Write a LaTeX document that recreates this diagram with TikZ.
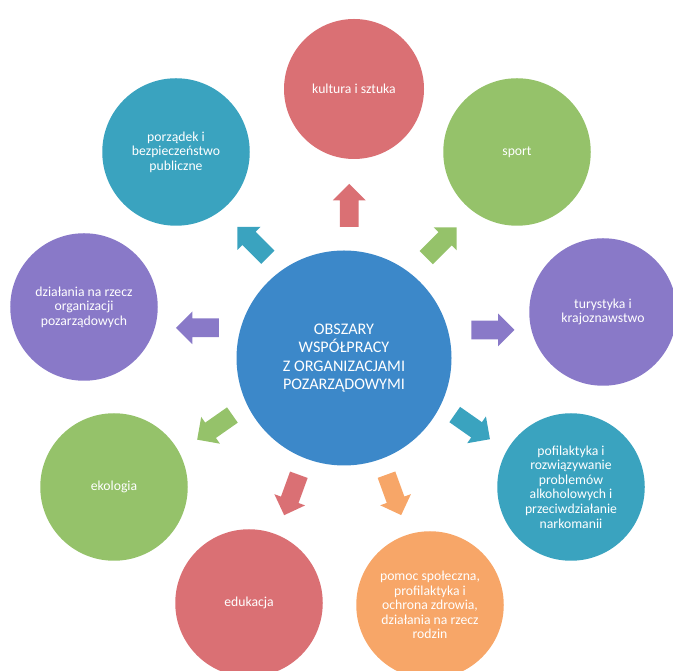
\documentclass[tikz,border=0pt]{standalone}
\usepackage{fontspec}
\setmainfont{Carlito}
\usetikzlibrary{shapes.arrows, calc}
\definecolor{obred}{RGB}{218,112,116}
\definecolor{obgreen}{RGB}{149,194,106}
\definecolor{obpurple}{RGB}{137,121,200}
\definecolor{obteal}{RGB}{58,163,191}
\definecolor{obblue}{RGB}{60,136,201}
\definecolor{oborange}{RGB}{247,166,104}
\tikzset{
    area/.style={circle, minimum size=2.95cm, inner sep=1pt, align=center, text=white,
      font=\fontsize{7.8}{8.3}\selectfont},
    hub/.style={circle, fill=obblue, minimum size=4.3cm, align=center, text=white,
      font=\fontsize{9.2}{10.6}\selectfont},
    pointer/.style={single arrow, minimum height=0.86cm, inner xsep=0pt, inner ysep=0.18cm,
      single arrow head extend=0.14cm, single arrow head indent=0pt},
}
\begin{document}
\begin{tikzpicture}
    \useasboundingbox (0,0) rectangle (13.46,13.4);

    \node[hub] (hub) at (6.88,6.24) {OBSZARY\\WSPÓŁPRACY\\Z ORGANIZACJAMI\\POZARZĄDOWYMI};

    % outer areas
    \node[area, fill=obred, minimum size=2.8cm] (culture) at (7.08,11.62) {kultura i sztuka};
    \node[area, fill=obgreen] (sport) at (10.34,10.36) {sport};
    \node[area, fill=obpurple] (tourism) at (12.06,7.16) {turystyka i\\krajoznawstwo};
    \node[area, fill=obteal] (prevention) at (11.42,3.66) {pofilaktyka i\\rozwiązywanie\\problemów\\alkoholowych i\\przeciwdziałanie\\narkomanii};
    \node[area, fill=oborange] (welfare) at (8.60,1.30) {pomoc społeczna,\\profilaktyka i\\ochrona zdrowia,\\działania na rzecz\\rodzin};
    \node[area, fill=obred] (education) at (4.98,1.34) {edukacja};
    \node[area, fill=obgreen] (ecology) at (2.28,3.66) {ekologia};
    \node[area, fill=obpurple] (ngo) at (1.68,7.26) {działania na rzecz\\organizacji\\pozarządowych};
    \node[area, fill=obteal] (order) at (3.52,10.36) {porządek i\\bezpieczeństwo\\publiczne};

    % arrows
    \node[pointer, fill=obred, rotate=90] (toculture) at ($(hub)+(88:2.96)$) {};
    \node[pointer, fill=obgreen, rotate=45] (tosport) at ($(hub)+(50:2.93)$) {};
    \node[pointer, fill=obpurple, rotate=0] (totourism) at ($(hub)+(11:2.94)$) {};
    \node[pointer, fill=obteal, rotate=-35] (toprevention) at ($(hub)+(-28:2.82)$) {};
    \node[pointer, fill=oborange, rotate=-70] (towelfare) at ($(hub)+(-70:2.82)$) {};
    \node[pointer, fill=obred, rotate=-110] (toeducation) at ($(hub)+(-111:2.84)$) {};
    \node[pointer, fill=obgreen, rotate=-145] (toecology) at ($(hub)+(-152:2.84)$) {};
    \node[pointer, fill=obpurple, rotate=180] (tongo) at ($(hub)+(168:2.9)$) {};
    \node[pointer, fill=obteal, rotate=135] (toorder) at ($(hub)+(128:2.86)$) {};

\end{tikzpicture}
\end{document}
